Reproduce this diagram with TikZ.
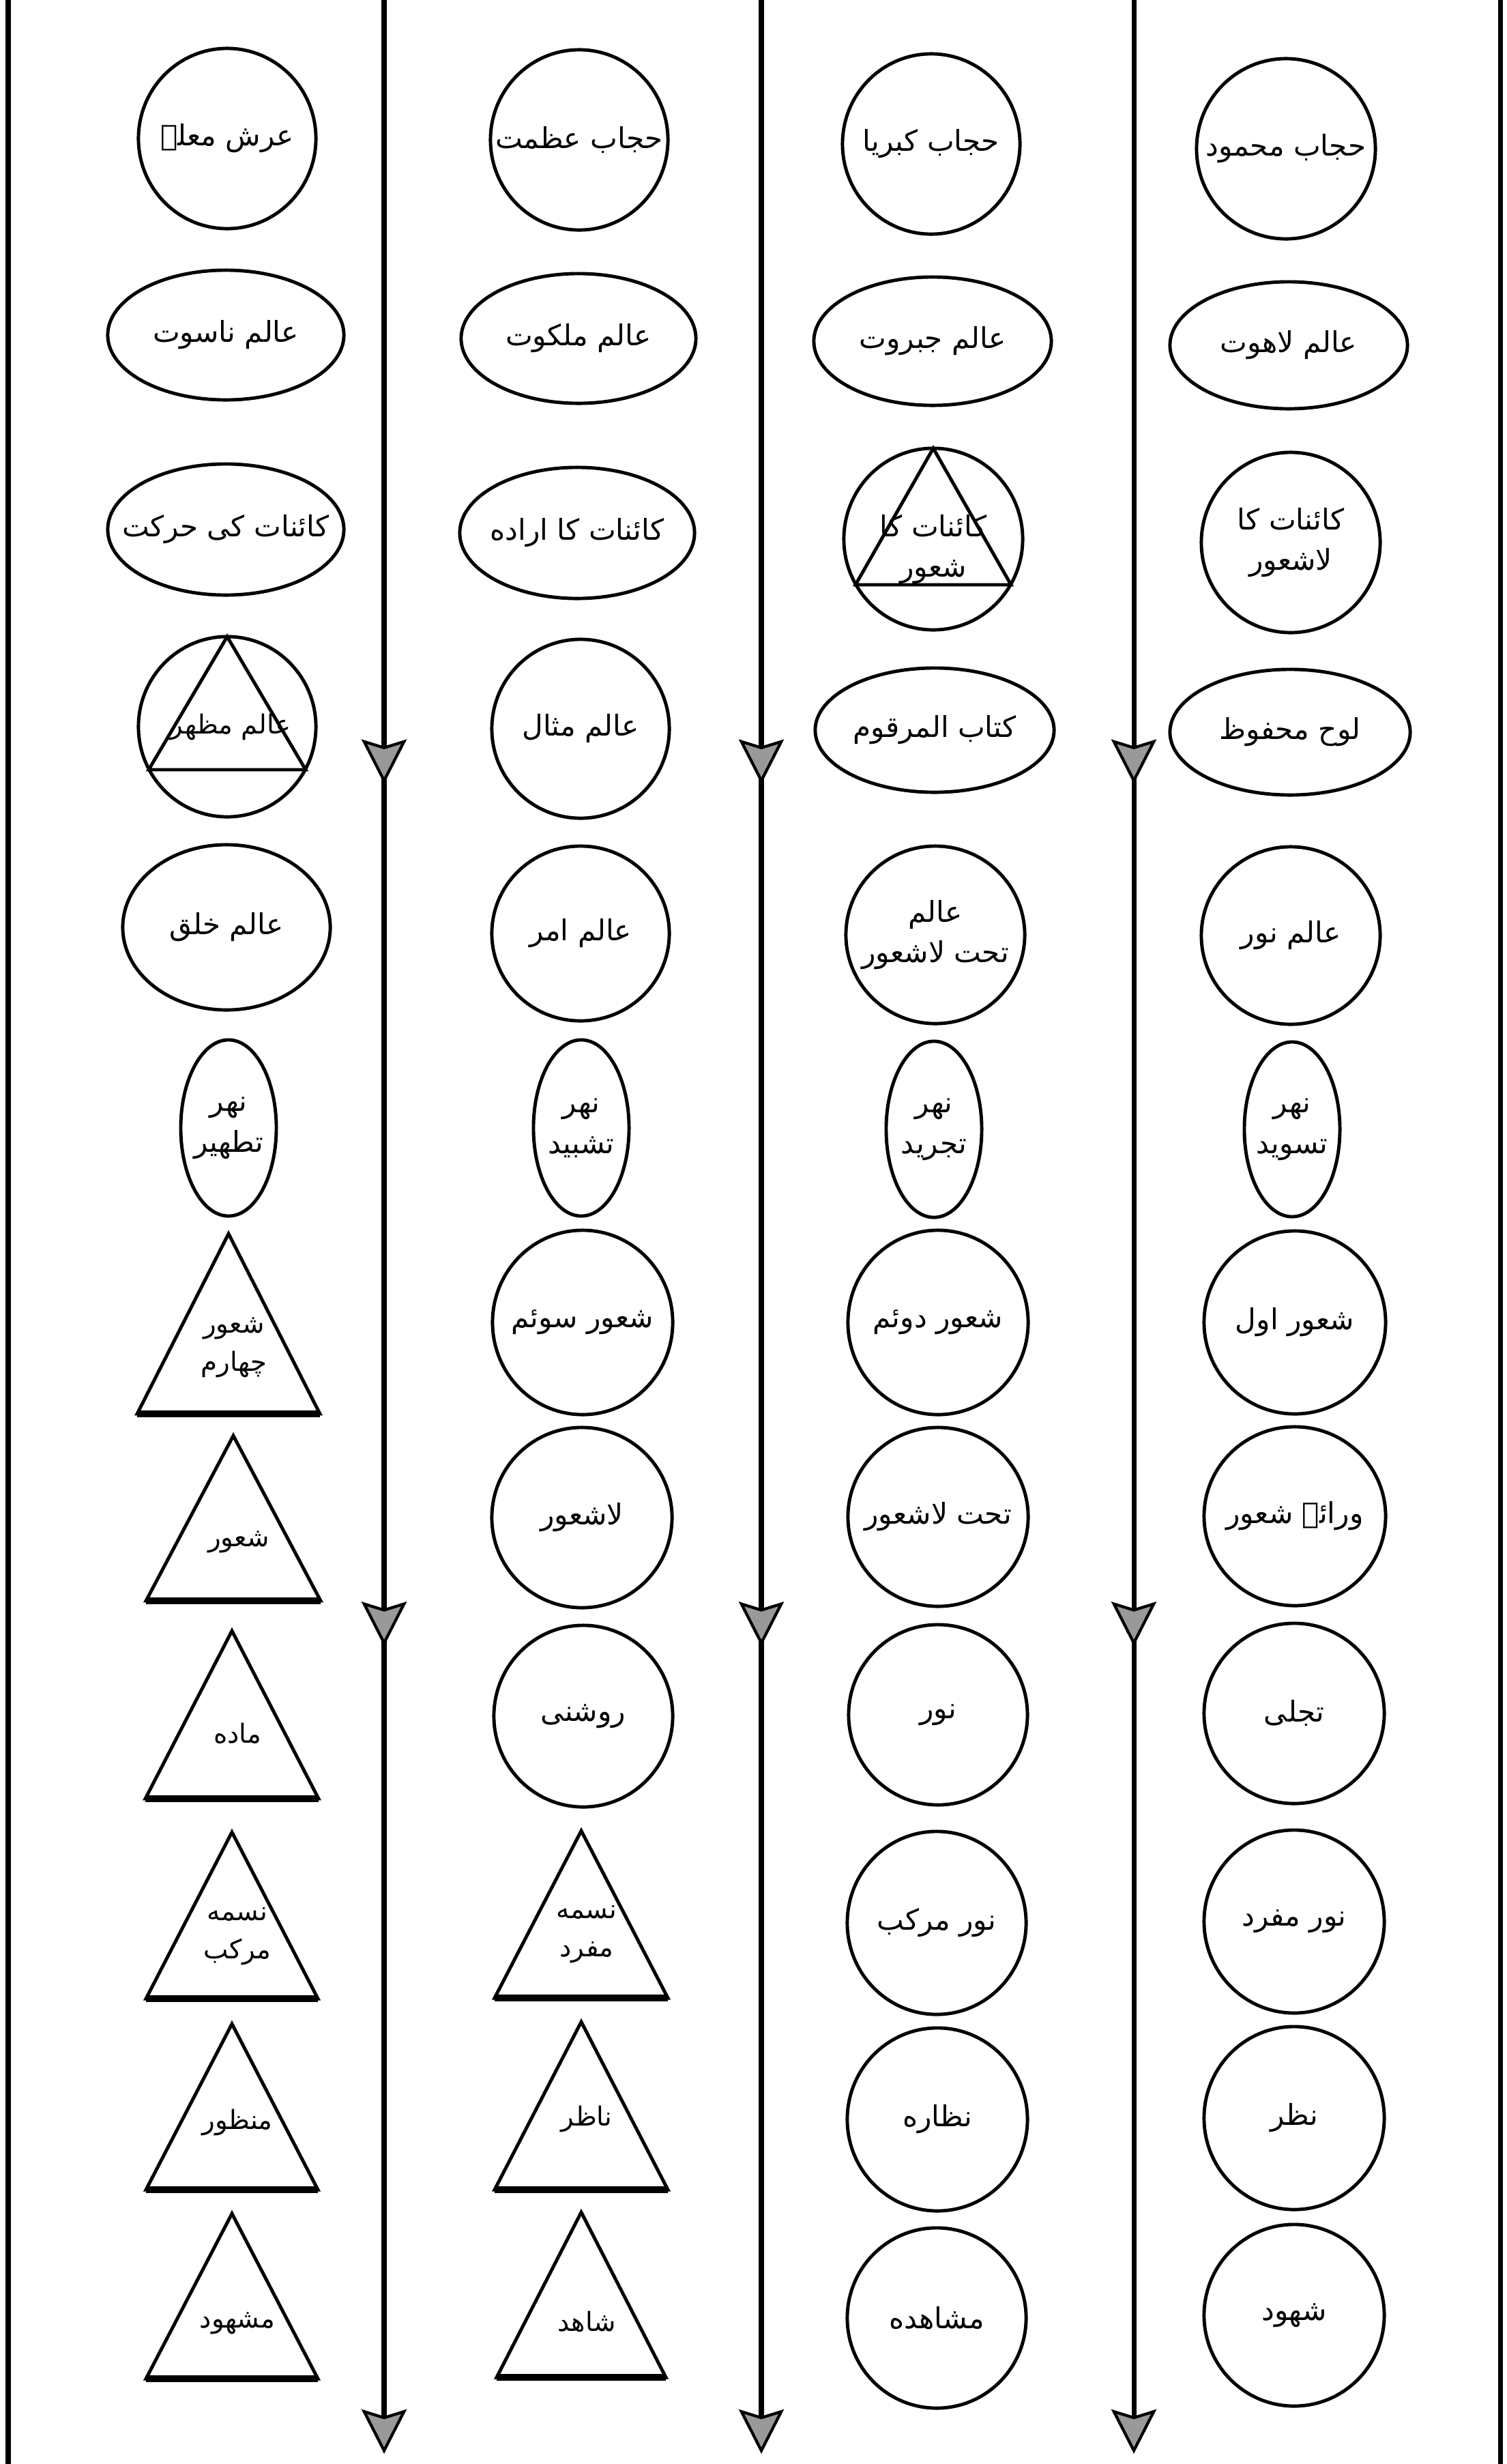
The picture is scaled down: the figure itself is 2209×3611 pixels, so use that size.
\documentclass[tikz,border=0pt]{standalone}
\usepackage{fontspec}
\usetikzlibrary{arrows.meta,decorations.markings}
\TeXXeTstate=1
\newfontfamily\ur[Script=Arabic]{DejaVu Sans}
\newcommand\urt[1]{\beginR#1\endR}
% ellipse/circle: name, x, y, rx(cm), ry(cm), text
\newcommand\ushape[6]{\draw[shp] (#2,#3) ellipse [x radius=#4cm, y radius=#5cm];
  \node[lbl] (#1) at (#2,#3) {#6};}
% triangle: name, cx, apex y, base y, half width, text y, text
\newcommand\utri[7]{\draw[shp,line join=miter] (#2,#3) -- ({#2+#5},#4) -- ({#2-#5},#4) -- cycle;
  \draw[basel] ({#2-#5},#4) -- ({#2+#5},#4);
  \node[lbl,trilbl] (#1) at ({#2+8},#6) {#7};}
\begin{document}
\begin{tikzpicture}[x=0.01cm,y=-0.01cm,
  shp/.style={draw=black,line width=1.4pt},
  basel/.style={draw=black,line width=2.6pt},
  lbl/.style={font=\ur\fontsize{12}{17}\selectfont,align=center,inner sep=0pt},
  trilbl/.style={font=\ur\fontsize{11}{16}\selectfont},
  tipA/.tip={Stealth[length=0.65cm,width=0.66cm,inset=0.1cm,fill=black!40,line width=1.2pt]},
  border/.style={line width=2pt},
  flow/.style={line width=2pt,-{tipA},postaction={decorate},
    decoration={markings,mark=at position 11.48cm with {\arrow{tipA}},
      mark=at position 24.11cm with {\arrow{tipA}}}}]
\fill[white] (0,0) rectangle (2209,3611);
\useasboundingbox (0,0) rectangle (2209,3611);
% borders and flow lines
\coordinate (b1t) at (12,0); \coordinate (b1b) at (12,3611);
\coordinate (b2t) at (2199,0); \coordinate (b2b) at (2199,3611);
\draw[border] (b1t) -- (b1b);
\draw[border] (b2t) -- (b2b);
\coordinate (a1t) at (563,0); \coordinate (a1b) at (563,3596);
\coordinate (a2t) at (1116,0); \coordinate (a2b) at (1116,3596);
\coordinate (a3t) at (1662,0); \coordinate (a3b) at (1662,3596);
\draw[flow] (a1t) -- (a1b);
\draw[flow] (a2t) -- (a2b);
\draw[flow] (a3t) -- (a3b);
% Row 1
\ushape{c11}{333}{203}{1.30}{1.32}{\urt{عرش معلے}}
\ushape{c12}{849}{205}{1.30}{1.32}{\urt{حجاب عظمت}}
\ushape{c13}{1365}{211}{1.30}{1.32}{\urt{حجاب کبریا}}
\ushape{c14}{1885}{218}{1.31}{1.32}{\urt{حجاب محمود}}
% Row 2
\ushape{c21}{331}{491}{1.73}{0.95}{\urt{عالم ناسوت}}
\ushape{c22}{848}{496}{1.72}{0.95}{\urt{عالم ملکوت}}
\ushape{c23}{1367}{500}{1.74}{0.94}{\urt{عالم جبروت}}
\ushape{c24}{1889}{506}{1.74}{0.93}{\urt{عالم لاهوت}}
% Row 3
\ushape{c31}{331}{776}{1.73}{0.96}{\urt{کائنات کی حرکت}}
\ushape{c32}{846}{781}{1.72}{0.96}{\urt{کائنات کا اراده}}
\draw[shp] (1368,790) ellipse [x radius=1.31cm, y radius=1.33cm];
\draw[shp,line join=miter] (1368,657) -- (1482,857) -- (1254,857) -- cycle;
\node[lbl] (c33) at (1368,805) {\urt{کائنات کا}\\\urt{شعور}};
\ushape{c34}{1892}{795}{1.31}{1.32}{\urt{کائنات کا}\\\urt{لاشعور}}
% Row 4
\draw[shp] (333,1065) ellipse [x radius=1.30cm, y radius=1.32cm];
\draw[shp,line join=miter] (333,933) -- (448,1128) -- (218,1128) -- cycle;
\node[lbl,trilbl] (c41) at (338,1066) {\urt{عالم مظهر}};
\ushape{c42}{851}{1068}{1.30}{1.31}{\urt{عالم مثال}}
\ushape{c43}{1370}{1070}{1.75}{0.91}{\urt{کتاب المرقوم}}
\ushape{c44}{1891}{1073}{1.76}{0.92}{\urt{لوح محفوظ}}
% Row 5
\ushape{c51}{332}{1359}{1.52}{1.21}{\urt{عالم خلق}}
\ushape{c52}{851}{1368}{1.30}{1.28}{\urt{عالم امر}}
\ushape{c53}{1371}{1370}{1.31}{1.30}{\urt{عالم}\\\urt{تحت لاشعور}}
\ushape{c54}{1892}{1371}{1.31}{1.30}{\urt{عالم نور}}
% Row 6
\ushape{c61}{335}{1653}{0.70}{1.29}{\urt{نهر}\\\urt{تطهیر}}
\ushape{c62}{852}{1653}{0.70}{1.29}{\urt{نهر}\\\urt{تشبید}}
\ushape{c63}{1369}{1655}{0.70}{1.29}{\urt{نهر}\\\urt{تجرید}}
\ushape{c64}{1894}{1655}{0.70}{1.28}{\urt{نهر}\\\urt{تسوید}}
% Row 7
\utri{c71}{335}{1808}{2072}{134}{1975}{\urt{شعور}\\\urt{چهارم}}
\ushape{c72}{854}{1938}{1.32}{1.35}{\urt{شعور سوئم}}
\ushape{c73}{1375}{1938}{1.32}{1.35}{\urt{شعور دوئم}}
\ushape{c74}{1898}{1938}{1.33}{1.34}{\urt{شعور اول}}
% Row 8
\utri{c81}{342}{2104}{2346}{128}{2260}{\urt{شعور}}
\ushape{c82}{853}{2224}{1.32}{1.32}{\urt{لاشعور}}
\ushape{c83}{1375}{2223}{1.32}{1.31}{\urt{تحت لاشعور}}
\ushape{c84}{1898}{2222}{1.33}{1.31}{\urt{ورائے شعور}}
% Row 9
\utri{c91}{340}{2390}{2636}{127}{2540}{\urt{ماده}}
\ushape{c92}{855}{2515}{1.31}{1.33}{\urt{روشنی}}
\ushape{c93}{1375}{2513}{1.31}{1.32}{\urt{نور}}
\ushape{c94}{1897}{2511}{1.32}{1.32}{\urt{تجلی}}
% Row 10
\utri{c101}{340}{2685}{2929}{126}{2838}{\urt{نسمه}\\\urt{مرکب}}
\utri{c102}{852}{2683}{2928}{127}{2835}{\urt{نسمه}\\\urt{مفرد}}
\ushape{c103}{1373}{2818}{1.31}{1.34}{\urt{نور مرکب}}
\ushape{c104}{1897}{2816}{1.32}{1.34}{\urt{نور مفرد}}
% Row 11
\utri{c111}{340}{2966}{3209}{126}{3110}{\urt{منظور}}
\utri{c112}{852}{2963}{3209}{127}{3105}{\urt{ناظر}}
\ushape{c113}{1374}{3106}{1.32}{1.34}{\urt{نظاره}}
\ushape{c114}{1897}{3104}{1.32}{1.34}{\urt{نظر}}
% Row 12
\utri{c121}{340}{3244}{3486}{126}{3405}{\urt{مشهود}}
\utri{c122}{852}{3242}{3484}{124}{3402}{\urt{شاهد}}
\ushape{c123}{1373}{3397}{1.31}{1.32}{\urt{مشاهده}}
\ushape{c124}{1897}{3393}{1.32}{1.33}{\urt{شهود}}
\end{tikzpicture}
\end{document}
